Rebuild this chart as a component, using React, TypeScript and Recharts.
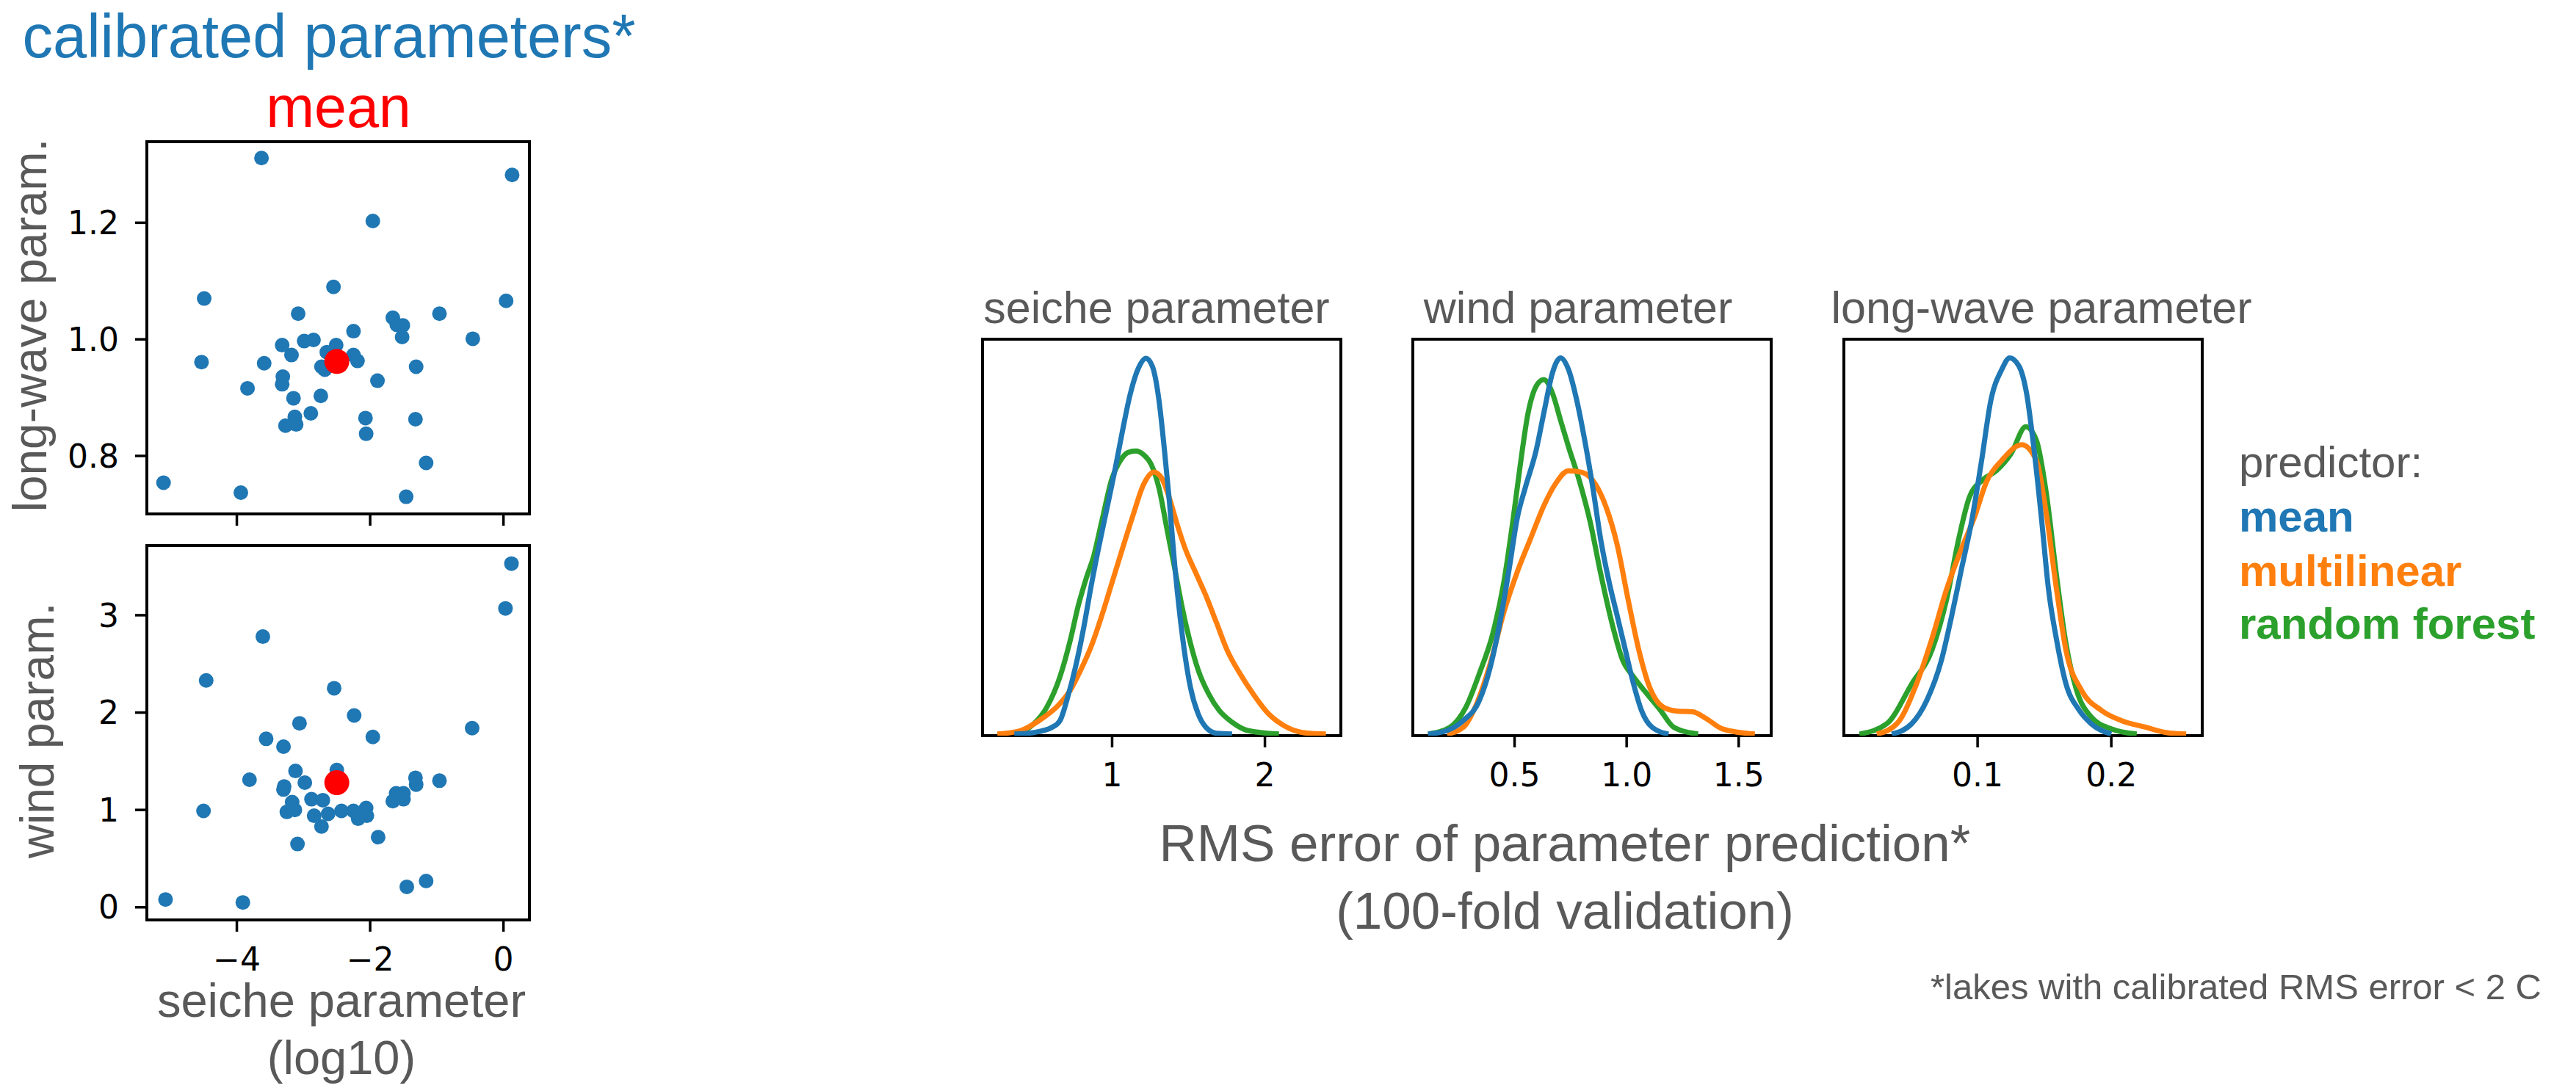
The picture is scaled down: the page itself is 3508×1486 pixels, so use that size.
import React from "react";
import {
  ScatterChart,
  Scatter,
  LineChart,
  Line,
  XAxis,
  YAxis,
  ReferenceArea,
} from "recharts";

// calibrated parameters per lake: [seiche (log10), long-wave]
const longWavePoints = [
  [-3.63, 1.311], [0.13, 1.282], [-1.96, 1.203], [-2.55, 1.09], [-4.49, 1.07],
  [0.04, 1.066], [-3.08, 1.044], [-0.96, 1.044], [-1.66, 1.037], [-1.6, 1.025],
  [-1.51, 1.024], [-2.25, 1.014], [-1.52, 1.004], [-0.46, 1.001], [-2.99, 0.997],
  [-2.85, 0.999], [-3.32, 0.99], [-2.51, 0.99], [-2.65, 0.978], [-3.18, 0.973],
  [-2.25, 0.973], [-2.19, 0.963], [-4.53, 0.961], [-3.59, 0.959], [-2.73, 0.953],
  [-2.68, 0.948], [-1.31, 0.953], [-3.31, 0.936], [-3.32, 0.923], [-1.89, 0.929],
  [-3.84, 0.916], [-2.74, 0.903], [-3.15, 0.899], [-2.89, 0.873], [-3.13, 0.867],
  [-3.27, 0.852], [-3.11, 0.854], [-2.07, 0.865], [-1.32, 0.863], [-2.06, 0.838],
  [-1.16, 0.788], [-5.1, 0.754], [-3.94, 0.737], [-1.46, 0.73],
];

// [seiche (log10), wind]
const windPoints = [
  [0.12, 3.53], [0.03, 3.07], [-3.61, 2.78], [-4.46, 2.33], [-2.54, 2.25],
  [-2.24, 1.97], [-3.06, 1.89], [-0.47, 1.84], [-1.96, 1.75], [-3.56, 1.73],
  [-3.3, 1.65], [-2.5, 1.41], [-3.12, 1.4], [-3.81, 1.31], [-0.96, 1.3],
  [-1.32, 1.33], [-1.31, 1.26], [-2.98, 1.28], [-3.29, 1.24], [-3.3, 1.21],
  [-1.61, 1.17], [-1.5, 1.17], [-1.5, 1.11], [-1.66, 1.09], [-2.88, 1.11],
  [-2.71, 1.1], [-3.17, 1.08], [-2.06, 1.02], [-2.25, 0.99], [-2.43, 0.99],
  [-3.13, 1.0], [-3.25, 0.98], [-4.5, 0.99], [-2.63, 0.96], [-2.84, 0.94],
  [-2.05, 0.94], [-2.18, 0.91], [-2.73, 0.83], [-1.88, 0.72], [-3.09, 0.65],
  [-1.16, 0.27], [-1.45, 0.21], [-5.07, 0.08], [-3.91, 0.05],
];

const longWaveMean = [[-2.5, 0.962]];
const windMean = [[-2.5, 1.28]];

// RMS error densities (height as fraction of the panel)
const seicheMean = [
  [0.36, 0.004], [0.488, 0.008], [0.607, 0.021], [0.659, 0.038], [0.71, 0.098],
  [0.761, 0.174], [0.812, 0.268], [0.863, 0.378], [0.915, 0.48], [0.966, 0.573],
  [1.017, 0.667], [1.068, 0.769], [1.119, 0.862], [1.171, 0.926], [1.222, 0.952],
  [1.265, 0.93], [1.307, 0.845], [1.341, 0.726], [1.375, 0.59], [1.41, 0.429],
  [1.444, 0.302], [1.478, 0.2], [1.512, 0.123], [1.563, 0.055], [1.614, 0.021],
  [1.683, 0.006], [1.785, 0.004],
];
const seicheForest = [
  [0.369, 0.004], [0.488, 0.03], [0.573, 0.072], [0.659, 0.149], [0.727, 0.242],
  [0.778, 0.327], [0.829, 0.395], [0.881, 0.455], [0.932, 0.54], [1.0, 0.65],
  [1.051, 0.692], [1.102, 0.714], [1.154, 0.718], [1.205, 0.709], [1.256, 0.684],
  [1.307, 0.624], [1.358, 0.523], [1.41, 0.421], [1.461, 0.319], [1.512, 0.234],
  [1.563, 0.166], [1.631, 0.106], [1.7, 0.064], [1.785, 0.034], [1.887, 0.013],
  [2.092, 0.004],
];
const seicheLinear = [
  [0.249, 0.004], [0.403, 0.013], [0.522, 0.038], [0.659, 0.081], [0.727, 0.115],
  [0.795, 0.166], [0.863, 0.225], [0.932, 0.302], [1.0, 0.387], [1.068, 0.472],
  [1.137, 0.556], [1.205, 0.633], [1.273, 0.665], [1.324, 0.65], [1.375, 0.599],
  [1.427, 0.531], [1.478, 0.472], [1.546, 0.412], [1.614, 0.353], [1.683, 0.285],
  [1.751, 0.217], [1.836, 0.157], [1.922, 0.106], [2.024, 0.055], [2.126, 0.025],
  [2.246, 0.008], [2.399, 0.004],
];

const windMeanErr = [
  [0.114, 0.004], [0.199, 0.013], [0.271, 0.038], [0.343, 0.089], [0.392, 0.174],
  [0.44, 0.302], [0.476, 0.421], [0.512, 0.549], [0.548, 0.626], [0.596, 0.719],
  [0.633, 0.821], [0.669, 0.915], [0.705, 0.953], [0.741, 0.923], [0.777, 0.847],
  [0.813, 0.745], [0.849, 0.626], [0.886, 0.489], [0.922, 0.387], [0.958, 0.302],
  [0.994, 0.217], [1.03, 0.132], [1.066, 0.064], [1.114, 0.021], [1.187, 0.004],
];
const windForest = [
  [0.114, 0.004], [0.211, 0.021], [0.283, 0.072], [0.343, 0.157], [0.404, 0.26],
  [0.452, 0.387], [0.488, 0.523], [0.524, 0.677], [0.56, 0.813], [0.596, 0.881],
  [0.63, 0.898], [0.669, 0.864], [0.705, 0.796], [0.741, 0.728], [0.789, 0.643],
  [0.837, 0.54], [0.886, 0.404], [0.934, 0.285], [0.982, 0.191], [1.03, 0.149],
  [1.09, 0.106], [1.151, 0.064], [1.211, 0.021], [1.319, 0.004],
];
const windLinear = [
  [0.199, 0.004], [0.271, 0.021], [0.331, 0.081], [0.392, 0.183], [0.452, 0.311],
  [0.512, 0.413], [0.572, 0.498], [0.633, 0.583], [0.681, 0.634], [0.741, 0.668],
  [0.801, 0.664], [0.861, 0.634], [0.91, 0.574], [0.958, 0.481], [1.006, 0.345],
  [1.054, 0.217], [1.102, 0.123], [1.163, 0.072], [1.223, 0.062], [1.295, 0.06],
  [1.355, 0.043], [1.428, 0.017], [1.572, 0.004],
];

const longMean = [
  [0.0358, 0.004], [0.0507, 0.03], [0.062, 0.089], [0.073, 0.191], [0.0806, 0.302],
  [0.088, 0.421], [0.0955, 0.54], [0.103, 0.694], [0.11, 0.847], [0.118, 0.923],
  [0.124, 0.953], [0.131, 0.932], [0.1366, 0.864], [0.142, 0.728], [0.148, 0.54],
  [0.153, 0.37], [0.159, 0.243], [0.166, 0.132], [0.176, 0.064], [0.185, 0.03],
  [0.2, 0.004],
];
const longForest = [
  [0.0116, 0.004], [0.032, 0.03], [0.051, 0.132], [0.066, 0.217], [0.0769, 0.345],
  [0.086, 0.498], [0.0937, 0.6], [0.103, 0.643], [0.114, 0.668], [0.125, 0.711],
  [0.136, 0.779], [0.144, 0.745], [0.1515, 0.609], [0.159, 0.404], [0.166, 0.234],
  [0.174, 0.115], [0.185, 0.047], [0.2, 0.017], [0.219, 0.004],
];
const longLinear = [
  [0.0246, 0.004], [0.0396, 0.03], [0.0545, 0.132], [0.0657, 0.243], [0.0769, 0.37],
  [0.088, 0.472], [0.0974, 0.549], [0.107, 0.643], [0.118, 0.694], [0.133, 0.734],
  [0.144, 0.694], [0.1515, 0.557], [0.159, 0.37], [0.166, 0.217], [0.1776, 0.115],
  [0.1925, 0.064], [0.2075, 0.038], [0.226, 0.021], [0.241, 0.008], [0.256, 0.004],
];

const BLUE = "#1f77b4";
const ORANGE = "#ff7f0e";
const GREEN = "#2ca02c";
const GRAY = "#595959";
const SANS = "Liberation Sans, Arial, sans-serif";

const toXY = (pts: number[][]) => pts.map(([x, y]) => ({ x, y }));
const toXH = (pts: number[][]) => pts.map(([x, h]) => ({ x, h }));
const minus = (v: number) => (v < 0 ? "\u2212" + Math.abs(v) : String(v));

const tickStyle = { fontSize: 44, fontFamily: "DejaVu Sans", fill: "#000" };
const tickLineStyle = { stroke: "#000", strokeWidth: 3.5 };

const dot = (r: number, fill: string) => (props: any) =>
  <circle cx={props.cx} cy={props.cy} r={r} fill={fill} />;

const SEICHE_DOMAIN: [number, number] = [-5.35, 0.39];

function ScatterPanel({ top, height, points, mean, yDomain, yTicks, yFmt, showX, marginTop, marginBottom }: any) {
  return (
    <div style={{ position: "absolute", left: 0, top }}>
      <ScatterChart width={760} height={height} margin={{ top: marginTop, right: 39, left: 80, bottom: marginBottom }}>
        <XAxis type="number" dataKey="x" domain={SEICHE_DOMAIN} allowDataOverflow ticks={[-4, -2, 0]}
          interval={0} axisLine={false} stroke="#000" tickLine={tickLineStyle} tickSize={16} tickMargin={22}
          tick={tickStyle} tickFormatter={showX ? minus : () => ""} height={showX ? 80 : 60} />
        <YAxis type="number" dataKey="y" domain={yDomain} allowDataOverflow ticks={yTicks} interval={0}
          axisLine={false} stroke="#000" tickLine={tickLineStyle} tickSize={16} tickMargin={22}
          tick={tickStyle} tickFormatter={yFmt} width={120} />
        <ReferenceArea x1={SEICHE_DOMAIN[0]} x2={SEICHE_DOMAIN[1]} y1={yDomain[0]} y2={yDomain[1]}
          fill="none" fillOpacity={0} stroke="#000" strokeWidth={4} strokeOpacity={1} />
        <Scatter data={toXY(points)} shape={dot(10, BLUE)} isAnimationActive={false} />
        <Scatter data={toXY(mean)} shape={dot(17, "#ff0000")} isAnimationActive={false} />
      </ScatterChart>
    </div>
  );
}

function DensityPanel({ left, domain, ticks, fmt, mean, linear, forest }: any) {
  return (
    <div style={{ position: "absolute", left, top: 400 }}>
      <LineChart width={560} height={700} margin={{ top: 62, right: 34, left: 38, bottom: 18 }}>
        <XAxis type="number" dataKey="x" domain={domain} allowDataOverflow ticks={ticks} interval={0}
          axisLine={false} stroke="#000" tickLine={tickLineStyle} tickSize={16} tickMargin={22}
          tick={tickStyle} tickFormatter={fmt} height={80} />
        <YAxis type="number" domain={[0, 1]} allowDataOverflow hide />
        <ReferenceArea x1={domain[0]} x2={domain[1]} y1={0} y2={1}
          fill="none" fillOpacity={0} stroke="#000" strokeWidth={4} strokeOpacity={1} />
        <Line data={toXH(forest)} dataKey="h" type="monotone" stroke={GREEN} strokeWidth={7} dot={false} isAnimationActive={false} />
        <Line data={toXH(linear)} dataKey="h" type="monotone" stroke={ORANGE} strokeWidth={7} dot={false} isAnimationActive={false} />
        <Line data={toXH(mean)} dataKey="h" type="monotone" stroke={BLUE} strokeWidth={7} dot={false} isAnimationActive={false} />
      </LineChart>
    </div>
  );
}

export default function App() {
  return (
    <div style={{ position: "absolute", left: 0, top: 0, width: 3508, height: 1486, background: "#fff", overflow: "hidden" }}>
      <ScatterPanel top={0} height={760} points={longWavePoints} mean={longWaveMean}
        yDomain={[0.7005, 1.339]} yTicks={[0.8, 1.0, 1.2]} yFmt={(v: number) => v.toFixed(1)}
        showX={false} marginTop={193} marginBottom={0} />
      <ScatterPanel top={700} height={640} points={windPoints} mean={windMean}
        yDomain={[-0.13, 3.716]} yTicks={[0, 1, 2, 3]} yFmt={(v: number) => String(v)}
        showX={true} marginTop={43} marginBottom={7} />

      <DensityPanel left={1300} domain={[0.152, 2.497]} ticks={[1, 2]} fmt={(v: number) => String(v)}
        mean={seicheMean} linear={seicheLinear} forest={seicheForest} />
      <DensityPanel left={1886} domain={[0.046, 1.645]} ticks={[0.5, 1.0, 1.5]} fmt={(v: number) => v.toFixed(1)}
        mean={windMeanErr} linear={windLinear} forest={windForest} />
      <DensityPanel left={2473} domain={[0.0, 0.268]} ticks={[0.1, 0.2]} fmt={(v: number) => v.toFixed(1)}
        mean={longMean} linear={longLinear} forest={longForest} />

      {/* text labels */}
      <svg width={3508} height={1486} style={{ position: "absolute", left: 0, top: 0, pointerEvents: "none" }}
        fontFamily={SANS}>
        <text x={448} y={78} fontSize={83} fill={BLUE} textAnchor="middle">calibrated parameters*</text>
        <text x={461} y={173} fontSize={79} fill="#ff0000" textAnchor="middle">mean</text>
        <text transform="translate(63,443) rotate(-90)" fontSize={64} fill={GRAY} textAnchor="middle">long-wave param.</text>
        <text transform="translate(73,995) rotate(-90)" fontSize={64} fill={GRAY} textAnchor="middle">wind param.</text>
        <text x={465} y={1385} fontSize={65} fill={GRAY} textAnchor="middle">seiche parameter</text>
        <text x={465} y={1463} fontSize={65} fill={GRAY} textAnchor="middle">(log10)</text>

        <text x={1575} y={440} fontSize={61} fill={GRAY} textAnchor="middle">seiche parameter</text>
        <text x={2149} y={440} fontSize={61} fill={GRAY} textAnchor="middle">wind parameter</text>
        <text x={2780} y={440} fontSize={61} fill={GRAY} textAnchor="middle">long-wave parameter</text>

        <text x={2131} y={1173} fontSize={71} fill={GRAY} textAnchor="middle">RMS error of parameter prediction*</text>
        <text x={2131} y={1265} fontSize={71} fill={GRAY} textAnchor="middle">(100-fold validation)</text>

        <text x={3049} y={650} fontSize={60} fill={GRAY}>predictor:</text>
        <text x={3049} y={724} fontSize={60} fill={BLUE} fontWeight="bold">mean</text>
        <text x={3049} y={798} fontSize={60} fill={ORANGE} fontWeight="bold">multilinear</text>
        <text x={3049} y={870} fontSize={60} fill={GREEN} fontWeight="bold">random forest</text>

        <text x={3461} y={1361} fontSize={49} fill={GRAY} textAnchor="end">*lakes with calibrated RMS error &lt; 2 C</text>
      </svg>
    </div>
  );
}
